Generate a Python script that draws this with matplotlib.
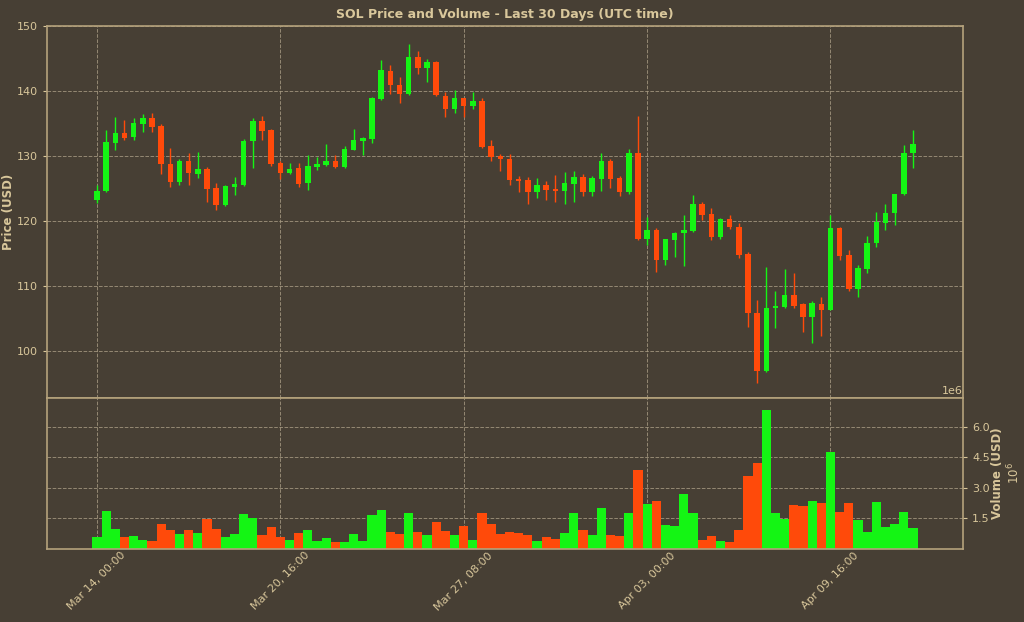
import matplotlib
matplotlib.use("Agg")
import matplotlib.pyplot as plt
import numpy as np

# 8-hour candles, Mar 14 00:00 -> Apr 12 16:00 (90 candles)
opens = [123.3, 124.6, 132.0, 133.5, 132.9, 135.0, 135.85, 134.7, 128.8, 126.05,
         129.2, 127.3, 128.05, 125.1, 122.5, 125.3, 125.5, 132.35, 135.4, 134.0,
         129.0, 127.4, 128.15, 125.8, 128.35, 128.7, 129.2, 128.35, 131.0, 132.35,
         132.7, 138.8, 143.1, 140.9, 139.5, 145.2, 143.6, 144.4, 139.2, 137.2,
         138.9, 137.7, 138.5, 131.5, 130.0, 129.5, 126.4, 126.3, 124.45, 125.5,
         124.9, 124.7, 125.75, 126.8, 124.4, 126.5, 129.3, 126.7, 124.4, 130.4,
         117.3, 118.6, 114.0, 117.1, 118.1, 118.5, 122.7, 121.1, 117.5, 120.3,
         119.1, 114.9, 105.8, 97.0, 106.6, 106.8, 108.7, 107.2, 105.3, 107.2,
         106.4, 119.0, 114.8, 109.5, 112.7, 116.6, 119.7, 121.3, 124.1, 130.4]
highs = [125.5, 134.0, 136.0, 135.5, 135.8, 136.5, 136.6, 134.9, 131.2, 129.5,
         130.5, 130.6, 128.3, 125.8, 125.6, 126.8, 132.7, 135.9, 136.1, 134.2,
         129.3, 129.0, 129.0, 130.1, 129.9, 131.8, 130.2, 131.5, 134.1, 132.9,
         139.1, 144.8, 144.0, 142.1, 147.3, 146.2, 145.0, 144.6, 139.9, 140.2,
         139.0, 139.9, 138.9, 132.5, 130.3, 130.3, 127.0, 126.8, 126.6, 126.2,
         127.1, 127.6, 127.75, 127.3, 126.9, 130.4, 129.6, 126.9, 131.1, 136.2,
         120.7, 118.9, 117.3, 118.3, 120.9, 124.0, 123.0, 122.0, 120.5, 120.9,
         119.7, 115.3, 107.8, 113.0, 109.2, 112.6, 112.05, 107.4, 107.7, 108.4,
         120.9, 119.1, 115.5, 113.2, 117.7, 121.4, 122.6, 124.2, 131.7, 134.0]
lows = [122.8, 124.4, 130.9, 132.5, 132.5, 133.7, 133.7, 127.3, 125.2, 125.6,
        125.5, 126.6, 122.9, 121.7, 122.4, 124.0, 125.4, 128.1, 132.5, 128.5,
        126.5, 127.2, 125.3, 124.8, 127.9, 128.5, 128.2, 128.2, 130.9, 130.2,
        132.0, 138.6, 139.6, 138.1, 139.4, 142.6, 141.4, 139.2, 136.0, 136.6,
        136.0, 137.2, 131.2, 129.2, 127.7, 125.5, 124.4, 122.7, 123.5, 123.2,
        123.0, 122.7, 123.0, 123.9, 123.9, 124.6, 125.1, 123.8, 124.2, 117.1,
        116.3, 112.2, 113.2, 114.5, 113.1, 118.3, 120.2, 117.1, 117.3, 118.8,
        114.3, 103.7, 95.1, 96.8, 103.5, 106.6, 106.6, 103.0, 101.2, 102.3,
        106.3, 114.0, 109.3, 108.3, 112.0, 116.0, 118.7, 119.4, 124.0, 128.2]
closes = [124.7, 132.1, 133.5, 132.8, 135.1, 135.85, 134.5, 128.8, 126.05, 129.3,
          127.4, 128.05, 125.0, 122.5, 125.4, 125.7, 132.3, 135.4, 133.9, 128.8,
          127.4, 128.0, 125.7, 128.5, 128.8, 129.2, 128.35, 131.1, 132.5, 132.8,
          138.9, 143.2, 140.9, 139.5, 145.2, 143.6, 144.4, 139.4, 137.2, 138.9,
          137.7, 138.5, 131.4, 129.9, 129.5, 126.3, 126.15, 124.4, 125.5, 124.8,
          124.7, 125.9, 126.8, 124.4, 126.7, 129.3, 126.5, 124.45, 130.4, 117.3,
          118.6, 114.0, 117.2, 118.1, 118.6, 122.7, 121.0, 117.5, 120.3, 119.1,
          114.8, 105.9, 97.0, 106.6, 107.0, 108.7, 107.0, 105.3, 107.4, 106.4,
          119.0, 114.7, 109.5, 112.8, 116.6, 119.8, 121.3, 124.2, 130.4, 131.8]
volumes = [0.58, 1.88, 0.98, 0.58, 0.62, 0.45, 0.37, 1.2, 0.95, 0.73,
           0.95, 0.78, 1.45, 0.98, 0.58, 0.75, 1.73, 1.5, 0.7, 1.1,
           0.58, 0.42, 0.78, 0.95, 0.37, 0.53, 0.32, 0.33, 0.75, 0.4,
           1.68, 1.92, 0.83, 0.75, 1.75, 0.83, 0.67, 1.32, 0.9, 0.67,
           1.12, 0.45, 1.75, 1.2, 0.75, 0.85, 0.78, 0.7, 0.4, 0.58,
           0.48, 0.78, 1.78, 0.95, 0.7, 2.03, 0.68, 0.62, 1.75, 3.87,
           2.2, 2.37, 1.17, 1.15, 2.68, 1.78, 0.45, 0.65, 0.4, 0.35,
           0.92, 3.57, 4.2, 6.82, 1.78, 1.48, 2.15, 2.12, 2.37, 2.25,
           4.75, 1.82, 2.25, 1.4, 0.83, 2.28, 1.07, 1.23, 1.83, 1.02]  # millions USD

tick_pos = [0, 20, 40, 60, 80]
tick_labels = ["Mar 14, 00:00", "Mar 20, 16:00", "Mar 27, 08:00",
               "Apr 03, 00:00", "Apr 09, 16:00"]

bg = "#473f34"
txt = "#d9c79b"
spine = "#b5a27c"
gridc = "#a89c84"
up = "#14f514"
down = "#ff4a0a"

o = np.array(opens)
c = np.array(closes)
h = np.array(highs)
l = np.array(lows)
v = np.array(volumes) * 1e6
x = np.arange(len(o))
cols = [up if cc >= oo else down for oo, cc in zip(o, c)]

fig = plt.figure(figsize=(10.24, 6.22), dpi=100, facecolor=bg)
ax1 = fig.add_axes([0.0459, 0.3601, 0.8945, 0.5981])
ax2 = fig.add_axes([0.0459, 0.1174, 0.8945, 0.2427], sharex=ax1)

for ax in (ax1, ax2):
    ax.set_facecolor(bg)
    for s in ax.spines.values():
        s.set_color(spine)
        s.set_linewidth(1.2)
    ax.grid(True, color=gridc, linestyle="--", linewidth=0.7, alpha=0.8)
    ax.set_axisbelow(True)
    ax.tick_params(colors=txt, labelsize=8, length=3)

# candles
ax1.vlines(x, l, h, colors=cols, linewidth=1)
ax1.bar(x, np.abs(c - o), bottom=np.minimum(o, c), width=0.6, color=cols)
ax1.set_ylim(92.8, 150)
ax1.set_yticks([100, 110, 120, 130, 140, 150])
ax1.set_ylabel("Price (USD)", color=txt, fontsize=8.5, fontweight="bold",
               labelpad=1)
ax1.set_title("SOL Price and Volume - Last 30 Days (UTC time)", color=txt,
              fontsize=9, fontweight="bold", pad=6)
ax1.tick_params(axis="x", labelbottom=False, length=0)

# volume
ax2.bar(x, v, width=1.0, color=cols)
ax2.set_ylim(0, 7.4e6)
ax2.set_yticks([1.5e6, 3.0e6, 4.5e6, 6.0e6])
ax2.yaxis.tick_right()
ax2.yaxis.set_label_position("right")
ax2.set_ylabel("Volume (USD)\n$10^6$", color=txt, fontsize=8.5,
               fontweight="bold", labelpad=1, linespacing=1.1)
ax2.yaxis.get_offset_text().set_color(txt)
ax2.yaxis.get_offset_text().set_fontsize(8)

ax2.set_xlim(-5.45, 94.45)
ax2.set_xticks(tick_pos)
ax2.set_xticklabels(tick_labels, rotation=45, ha="center", fontsize=8)
ax2.tick_params(axis="x", length=0, pad=1)

fig.savefig("out.png", dpi=100, facecolor=bg)
